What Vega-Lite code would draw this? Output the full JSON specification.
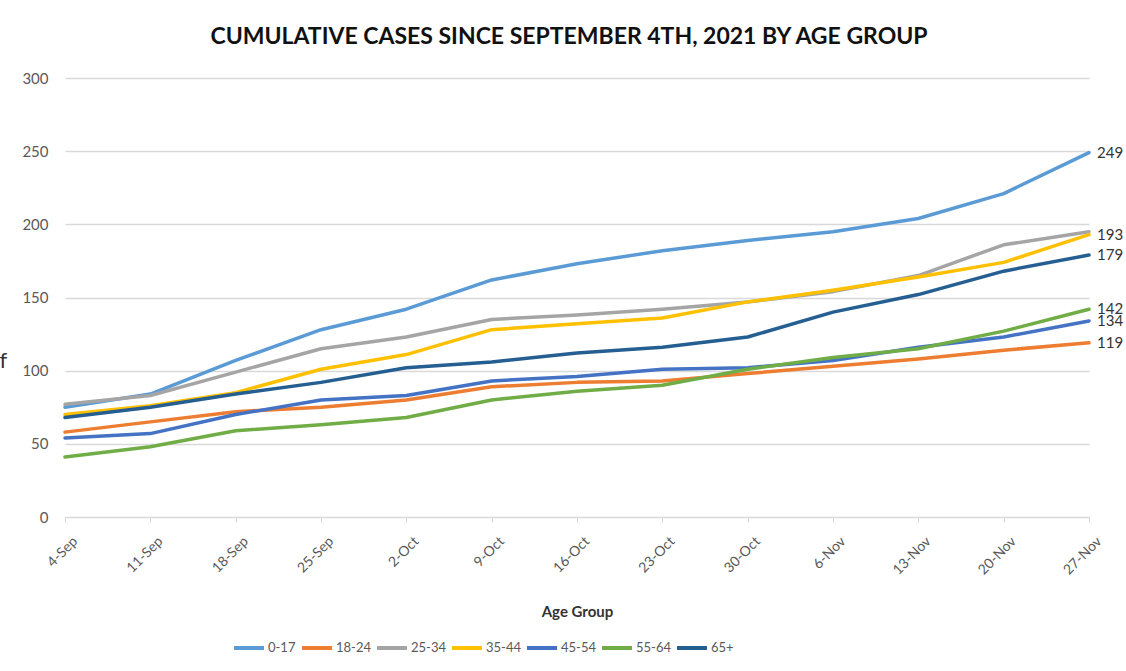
{
  "$schema": "https://vega.github.io/schema/vega-lite/v6.json",
  "width": 1036,
  "height": 439,
  "autosize": {"type": "none"},
  "padding": {"left": 65, "top": 78, "right": 25, "bottom": 154},
  "background": "white",
  "config": {
    "font": "Lato",
    "view": {"stroke": null}
  },
  "title": {
    "text": "CUMULATIVE CASES SINCE SEPTEMBER 4TH, 2021 BY AGE GROUP",
    "anchor": "middle",
    "frame": "group",
    "fontSize": 23,
    "fontWeight": "bold",
    "color": "#111111",
    "baseline": "alphabetic",
    "offset": 4,
    "dx": -14
  },
  "data": {
    "values": [
      {"d":"4-Sep","g":"0-17","v":75},{"d":"11-Sep","g":"0-17","v":84},{"d":"18-Sep","g":"0-17","v":107},{"d":"25-Sep","g":"0-17","v":128},{"d":"2-Oct","g":"0-17","v":142},{"d":"9-Oct","g":"0-17","v":162},{"d":"16-Oct","g":"0-17","v":173},{"d":"23-Oct","g":"0-17","v":182},{"d":"30-Oct","g":"0-17","v":189},{"d":"6-Nov","g":"0-17","v":195},{"d":"13-Nov","g":"0-17","v":204},{"d":"20-Nov","g":"0-17","v":221},{"d":"27-Nov","g":"0-17","v":249},
      {"d":"4-Sep","g":"18-24","v":58},{"d":"11-Sep","g":"18-24","v":65},{"d":"18-Sep","g":"18-24","v":72},{"d":"25-Sep","g":"18-24","v":75},{"d":"2-Oct","g":"18-24","v":80},{"d":"9-Oct","g":"18-24","v":89},{"d":"16-Oct","g":"18-24","v":92},{"d":"23-Oct","g":"18-24","v":93},{"d":"30-Oct","g":"18-24","v":98},{"d":"6-Nov","g":"18-24","v":103},{"d":"13-Nov","g":"18-24","v":108},{"d":"20-Nov","g":"18-24","v":114},{"d":"27-Nov","g":"18-24","v":119},
      {"d":"4-Sep","g":"25-34","v":77},{"d":"11-Sep","g":"25-34","v":83},{"d":"18-Sep","g":"25-34","v":99},{"d":"25-Sep","g":"25-34","v":115},{"d":"2-Oct","g":"25-34","v":123},{"d":"9-Oct","g":"25-34","v":135},{"d":"16-Oct","g":"25-34","v":138},{"d":"23-Oct","g":"25-34","v":142},{"d":"30-Oct","g":"25-34","v":147},{"d":"6-Nov","g":"25-34","v":154},{"d":"13-Nov","g":"25-34","v":165},{"d":"20-Nov","g":"25-34","v":186},{"d":"27-Nov","g":"25-34","v":195},
      {"d":"4-Sep","g":"35-44","v":70},{"d":"11-Sep","g":"35-44","v":76},{"d":"18-Sep","g":"35-44","v":85},{"d":"25-Sep","g":"35-44","v":101},{"d":"2-Oct","g":"35-44","v":111},{"d":"9-Oct","g":"35-44","v":128},{"d":"16-Oct","g":"35-44","v":132},{"d":"23-Oct","g":"35-44","v":136},{"d":"30-Oct","g":"35-44","v":147},{"d":"6-Nov","g":"35-44","v":155},{"d":"13-Nov","g":"35-44","v":164},{"d":"20-Nov","g":"35-44","v":174},{"d":"27-Nov","g":"35-44","v":193},
      {"d":"4-Sep","g":"45-54","v":54},{"d":"11-Sep","g":"45-54","v":57},{"d":"18-Sep","g":"45-54","v":70},{"d":"25-Sep","g":"45-54","v":80},{"d":"2-Oct","g":"45-54","v":83},{"d":"9-Oct","g":"45-54","v":93},{"d":"16-Oct","g":"45-54","v":96},{"d":"23-Oct","g":"45-54","v":101},{"d":"30-Oct","g":"45-54","v":102},{"d":"6-Nov","g":"45-54","v":107},{"d":"13-Nov","g":"45-54","v":116},{"d":"20-Nov","g":"45-54","v":123},{"d":"27-Nov","g":"45-54","v":134},
      {"d":"4-Sep","g":"55-64","v":41},{"d":"11-Sep","g":"55-64","v":48},{"d":"18-Sep","g":"55-64","v":59},{"d":"25-Sep","g":"55-64","v":63},{"d":"2-Oct","g":"55-64","v":68},{"d":"9-Oct","g":"55-64","v":80},{"d":"16-Oct","g":"55-64","v":86},{"d":"23-Oct","g":"55-64","v":90},{"d":"30-Oct","g":"55-64","v":101},{"d":"6-Nov","g":"55-64","v":109},{"d":"13-Nov","g":"55-64","v":115},{"d":"20-Nov","g":"55-64","v":127},{"d":"27-Nov","g":"55-64","v":142},
      {"d":"4-Sep","g":"65+","v":68},{"d":"11-Sep","g":"65+","v":75},{"d":"18-Sep","g":"65+","v":84},{"d":"25-Sep","g":"65+","v":92},{"d":"2-Oct","g":"65+","v":102},{"d":"9-Oct","g":"65+","v":106},{"d":"16-Oct","g":"65+","v":112},{"d":"23-Oct","g":"65+","v":116},{"d":"30-Oct","g":"65+","v":123},{"d":"6-Nov","g":"65+","v":140},{"d":"13-Nov","g":"65+","v":152},{"d":"20-Nov","g":"65+","v":168},{"d":"27-Nov","g":"65+","v":179}
    ]
  },
  "encoding": {
    "x": {
      "field": "d",
      "type": "ordinal",
      "sort": ["4-Sep","11-Sep","18-Sep","25-Sep","2-Oct","9-Oct","16-Oct","23-Oct","30-Oct","6-Nov","13-Nov","20-Nov","27-Nov"],
      "scale": {"type": "point", "padding": 0, "range": [0, 1024]},
      "axis": {
        "title": "Age Group",
        "titleFontSize": 15,
        "titleFontWeight": "bold",
        "titleColor": "#333333",
        "titlePadding": 27,
        "labelAngle": -45,
        "labelFontSize": 14,
        "labelColor": "#595959",
        "labelPadding": 12,
        "labelOffset": 5,
        "domainColor": "#d9d9d9",
        "tickColor": "#d9d9d9",
        "tickSize": 5,
        "grid": false
      }
    },
    "y": {
      "field": "v",
      "type": "quantitative",
      "scale": {"domain": [0, 300], "nice": false},
      "axis": {
        "values": [0, 50, 100, 150, 200, 250, 300],
        "title": "f",
        "titleAngle": 0,
        "titleFontSize": 22,
        "titleFontWeight": "normal",
        "titleColor": "#333333",
        "titleAlign": "left",
        "titleBaseline": "alphabetic",
        "titleX": -66,
        "titleY": 289,
        "labelFontSize": 15,
        "labelColor": "#595959",
        "labelPadding": 17,
        "domain": false,
        "ticks": false,
        "gridColor": "#d9d9d9",
        "gridWidth": 1.3
      }
    }
  },
  "layer": [
    {
      "mark": {"type": "line", "strokeWidth": 3.5, "strokeCap": "round", "strokeJoin": "round"},
      "encoding": {
        "color": {
          "field": "g",
          "type": "nominal",
          "scale": {
            "domain": ["0-17","18-24","25-34","35-44","45-54","55-64","65+"],
            "range": ["#5B9BD5","#ED7D31","#A5A5A5","#FFC000","#4472C4","#70AD47","#255E91"]
          },
          "legend": {
            "title": null,
            "orient": "none",
            "direction": "horizontal",
            "legendX": 167,
            "legendY": 553,
            "symbolType": "stroke",
            "symbolSize": 900,
            "symbolStrokeWidth": 4,
            "labelFontSize": 13,
            "labelColor": "#595959",
            "labelOffset": 2,
            "columnPadding": -2
          }
        }
      }
    },
    {
      "transform": [
        {"filter": "datum.d === '27-Nov' && datum.g !== '25-34'"}
      ],
      "mark": {"type": "text", "align": "left", "baseline": "middle", "dx": 8, "fontSize": 15, "color": "#333333"},
      "encoding": {
        "text": {"field": "v", "type": "quantitative"}
      }
    }
  ]
}
